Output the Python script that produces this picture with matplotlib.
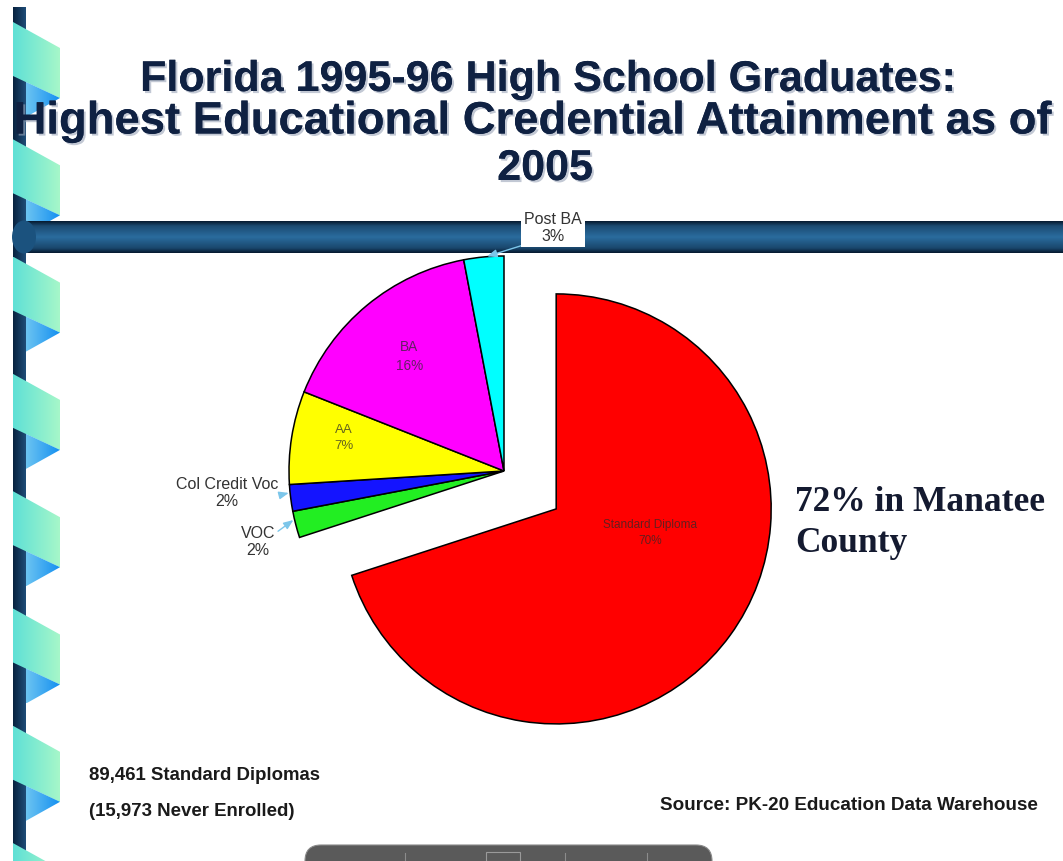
import numpy as np
import matplotlib
matplotlib.use("Agg")
import matplotlib.pyplot as plt
from matplotlib.patches import Polygon, FancyBboxPatch, Rectangle, Ellipse
import matplotlib.patheffects as pe

# ─── data ──────────────────────────────────────────────────────────────
labels = ["Standard Diploma", "VOC", "Col Credit Voc", "AA", "BA", "Post BA"]
values = [70, 2, 2, 7, 16, 3]
colors = ["#ff0000", "#22ee22", "#1414ff", "#ffff00", "#ff00ff", "#00ffff"]
explode_frac = [0.30, 0, 0, 0, 0, 0]

title_lines = ["Florida 1995-96 High School Graduates:",
               "Highest Educational Credential Attainment as of",
               "2005"]
side_note = "72% in Manatee\nCounty"
foot_left = ["89,461 Standard Diplomas", "(15,973 Never Enrolled)"]
source = "Source: PK-20 Education Data Warehouse"

W, H = 1063, 861
NAVY = "#0f2142"
ARROW = "#7cc6ea"
LBL = "#333333"


def Y(y):
    # image rows -> data y
    return H - y


def grad_fill(ax, poly, c0, c1, z=1):
    """horizontal gradient clipped to a polygon"""
    xs = [p[0] for p in poly]
    ys = [p[1] for p in poly]
    t = np.linspace(0, 1, 64)
    c0 = np.array(matplotlib.colors.to_rgb(c0))
    c1 = np.array(matplotlib.colors.to_rgb(c1))
    img = c0 + (c1 - c0) * t[None, :, None]
    im = ax.imshow(img, extent=[min(xs), max(xs), min(ys), max(ys)],
                   aspect="auto", zorder=z, interpolation="bilinear")
    p = Polygon(poly, closed=True, fc="none", ec="none", zorder=z)
    ax.add_patch(p)
    im.set_clip_path(p)


fig = plt.figure(figsize=(W / 100, H / 100), dpi=100, facecolor="white")
ax = fig.add_axes([0, 0, 1, 1])

# ─── pie ───────────────────────────────────────────────────────────────
cx, cy, R = 504, Y(471), 215
wedges, _ = ax.pie(values, colors=colors, explode=[e * R for e in explode_frac],
                   startangle=90, counterclock=False, center=(cx, cy), radius=R,
                   wedgeprops=dict(edgecolor="black", linewidth=1.1),
                   frame=True)
for w in wedges:
    w.set_zorder(5)
ax.set_xlim(0, W)
ax.set_ylim(0, H)
ax.axis("off")

# ─── left border ribbon ────────────────────────────────────────────────
grad_fill(ax, [(13, Y(7)), (26, Y(7)), (26, Y(H)), (13, Y(H))], "#08223f", "#1f4d78", z=1)
period = 117.3
for k in range(-1, 8):
    y0 = 22 + k * period
    teal = [(13, Y(y0)), (60, Y(y0 + 26)), (60, Y(y0 + 76)), (13, Y(y0 + 54))]
    grad_fill(ax, teal, "#5fe0d6", "#a6f7c9", z=2)
    tri = [(26, Y(y0 + 60)), (60, Y(y0 + 76)), (26, Y(y0 + 95))]
    grad_fill(ax, tri, "#6cc4f2", "#1590f0", z=2)
ax.add_patch(Rectangle((0, 0), 13, H, fc="white", ec="none", zorder=3))
ax.add_patch(Rectangle((0, Y(7)), 60, 7, fc="white", ec="none", zorder=3))

# ─── horizontal tube ───────────────────────────────────────────────────
t = np.linspace(0, 1, 64)
prof = np.interp(t, [0, 0.15, 0.5, 0.85, 1], [0, 0.6, 1, 0.55, 0])
dark = np.array(matplotlib.colors.to_rgb("#061a30"))
lite = np.array(matplotlib.colors.to_rgb("#2a6c9e"))
img = dark + (lite - dark) * prof[:, None, None]
img = np.repeat(img, 2, axis=1)
ax.imshow(img, extent=[22, W, Y(253), Y(221)], aspect="auto", zorder=4)
ax.add_patch(Ellipse((24, Y(237)), 24, 33, fc="#1b527e", ec="none", zorder=4))

# ─── title (one text per line, as on the slide) ───────────────────────
shadow = [pe.withSimplePatchShadow(offset=(1.5, -1.5), shadow_rgbFace="#9aa4b8", alpha=0.6),
          pe.Normal()]
for txt, (xc, yc, fs) in zip(title_lines, [(547, 80, 31), (532, 122, 32.7), (545, 169, 31)]):
    ax.text(xc, Y(yc), txt, ha="center", va="center", fontsize=fs,
            fontweight="bold", family="Liberation Sans", color=NAVY,
            zorder=6, path_effects=shadow)


def wedge_point(w, frac_angle, rfrac):
    a = np.deg2rad(w.theta1 + (w.theta2 - w.theta1) * frac_angle)
    return (w.center[0] + w.r * rfrac * np.cos(a),
            w.center[1] + w.r * rfrac * np.sin(a))


# inside labels: (angle fraction along wedge, radius fraction, size)
inside = {0: (0.585, 0.45, 8.5), 3: (0.4, 0.76, 9.5), 4: (0.5, 0.69, 9.8)}
for i, (fa, fr, fs) in inside.items():
    x, y = wedge_point(wedges[i], fa, fr)
    ax.text(x, y, f"{labels[i]}\n{values[i]}%", ha="center", va="center",
            fontsize=fs, family="Liberation Sans", color="#2a2a2a", alpha=0.72,
            linespacing=1.45, zorder=7)

# outside labels with arrows: (point on wedge, text centre, boxed, arrow start in text box)
outside = {5: ((0.45, 1.0), (553, Y(228)), True, (0.05, 0.0)),
           2: ((0.3, 1.0), (227, Y(493)), False, (0.71, 0.18)),
           1: ((0.3, 1.0), (258, Y(542)), False, (0.78, 0.6))}
for i, (wp, txy, boxed, rp) in outside.items():
    xy = wedge_point(wedges[i], *wp)
    bbox = dict(boxstyle="square,pad=0.2", fc="white", ec="none") if boxed else None
    ax.annotate(f"{labels[i]}\n{values[i]}%", xy=xy, xytext=txy,
                ha="center", va="center", fontsize=11.5, family="Liberation Sans",
                color=LBL, linespacing=1.15, bbox=bbox, zorder=8,
                arrowprops=dict(arrowstyle="-|>,head_length=0.5,head_width=0.2",
                                color=ARROW, lw=1, shrinkA=0, shrinkB=1, relpos=rp))

# ─── side note & footers ───────────────────────────────────────────────
ax.text(795, Y(523), side_note, ha="left", va="center", fontsize=25.5,
        fontweight="bold", family="Liberation Serif", color="#141a30",
        linespacing=1.3, zorder=6)
ax.text(89, Y(776), foot_left[0], ha="left", va="center", fontsize=13.4,
        fontweight="bold", family="Liberation Sans", color="#1a1a1a", zorder=6)
ax.text(89, Y(811), foot_left[1], ha="left", va="center", fontsize=13.4,
        fontweight="bold", family="Liberation Sans", color="#1a1a1a", zorder=6)
ax.text(1038, Y(805), source, ha="right", va="center", fontsize=13.6,
        fontweight="bold", family="Liberation Sans", color="#1a1a1a", zorder=6)

# ─── viewer toolbar stub at bottom ────────────────────────────────────
ax.add_patch(FancyBboxPatch((305, -30), 407, 30 + Y(845), boxstyle="round,pad=0,rounding_size=16",
                            fc="#5a5a5a", ec="#8a8a8a", lw=0.8, zorder=9))
for sx in [405, 565, 647]:
    ax.plot([sx, sx], [0, Y(853)], color="#8c8c8c", lw=0.8, zorder=10)
ax.add_patch(Rectangle((486, 0), 34, Y(852), fc="none", ec="#9a9a9a", lw=0.8, zorder=10))

fig.savefig("out.png", dpi=100, facecolor="white")
